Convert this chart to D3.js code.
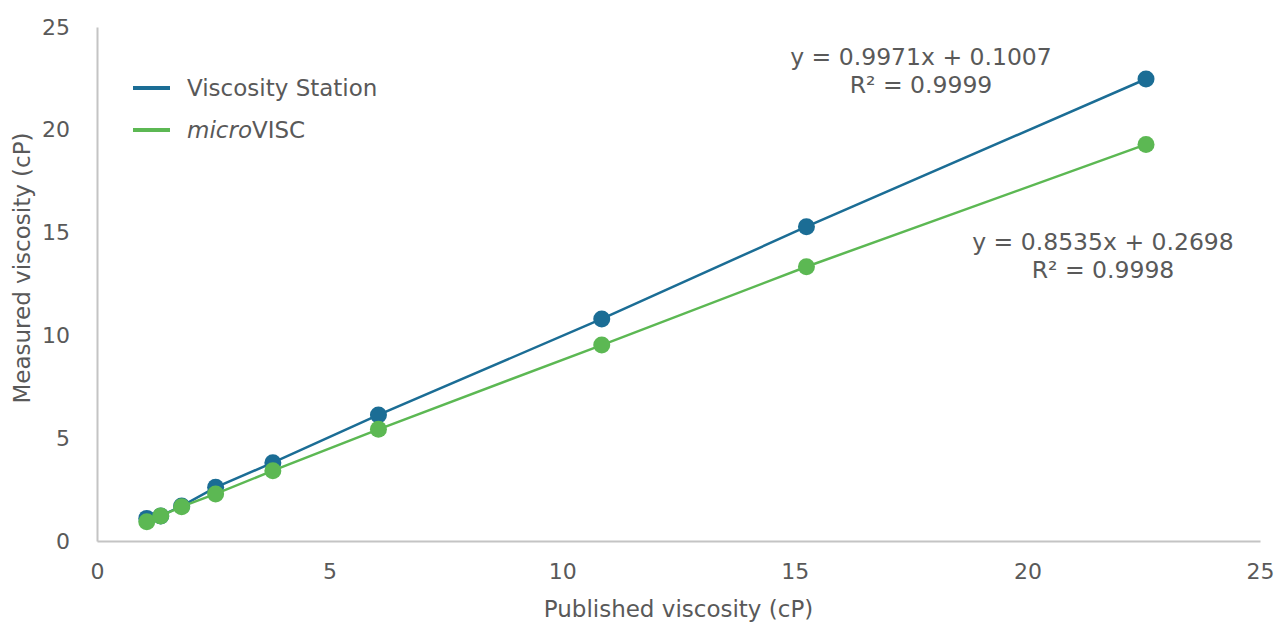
<!DOCTYPE html>
<html>
<head>
<meta charset="utf-8">
<script src="https://cdn.jsdelivr.net/npm/d3@7"></script>
<style>
  body { margin: 0; background: #fff; }
  text { font-family: "DejaVu Sans", Verdana, sans-serif; fill: #595959; }
</style>
</head>
<body>
<div id="chart"></div>
<script>
// published viscosity (cP)
const published = [1.07, 1.37, 1.82, 2.55, 3.78, 6.05, 10.85, 15.25, 22.55]
// measured values per instrument
const stationValues = [1.10, 1.22, 1.70, 2.61, 3.81, 6.13, 10.80, 15.29, 22.47]
const microviscValues = [0.94, 1.22, 1.67, 2.29, 3.42, 5.43, 9.53, 13.34, 19.29]
const seriesNames = ["Viscosity Station", "microVISC"]
const seriesColors = ["#1b6d95", "#5cb853"]
const fitLabels = [
  ["y = 0.9971x + 0.1007", "R² = 0.9999"],
  ["y = 0.8535x + 0.2698", "R² = 0.9998"]
]
const ticks = [0, 5, 10, 15, 20, 25]

const width = 1277
const height = 623
const margin = { top: 27, right: 17, bottom: 82, left: 97 }

const svg = d3
  .select("#chart")
  .append("svg")
  .attr("width", width)
  .attr("height", height)

const x = d3.scaleLinear().domain([0, 25]).range([margin.left, width - margin.right])
const y = d3.scaleLinear().domain([0, 25]).range([height - margin.bottom, margin.top])

// axes: plain grey lines, no tick marks
svg
  .append("g")
  .attr("transform", `translate(0,${y(0)})`)
  .call(d3.axisBottom(x).tickValues(ticks).tickSize(0).tickPadding(22))
  .call(g => g.select(".domain").attr("stroke", "#c4c4c4").attr("stroke-width", 2))
  .call(g => g.selectAll("text").attr("font-size", 22).attr("fill", "#595959"))

svg
  .append("g")
  .attr("transform", `translate(${x(0)},0)`)
  .call(d3.axisLeft(y).tickValues(ticks).tickSize(0).tickPadding(27))
  .call(g => g.select(".domain").attr("stroke", "#c4c4c4").attr("stroke-width", 2))
  .call(g => g.selectAll("text").attr("font-size", 22).attr("fill", "#595959"))

svg
  .append("text")
  .attr("x", (margin.left + width - margin.right) / 2)
  .attr("y", 617)
  .attr("text-anchor", "middle")
  .attr("font-size", 23)
  .text("Published viscosity (cP)")

svg
  .append("text")
  .attr("transform", "translate(30,268) rotate(-90)")
  .attr("text-anchor", "middle")
  .attr("font-size", 23)
  .text("Measured viscosity (cP)")

const series = [stationValues, microviscValues].map((vals, i) => ({
  name: seriesNames[i],
  color: seriesColors[i],
  points: published.map((p, j) => ({ x: p, y: vals[j] }))
}))

const line = d3.line().x(d => x(d.x)).y(d => y(d.y))

series.forEach(s => {
  svg
    .append("path")
    .attr("d", line(s.points))
    .attr("fill", "none")
    .attr("stroke", s.color)
    .attr("stroke-width", 2.5)
  svg
    .append("g")
    .selectAll("circle")
    .data(s.points)
    .enter()
    .append("circle")
    .attr("cx", d => x(d.x))
    .attr("cy", d => y(d.y))
    .attr("r", 8.5)
    .attr("fill", s.color)
})

// fit equations
const fitPos = [
  { cx: 921, cy: 65 },
  { cx: 1103, cy: 250 }
]
fitLabels.forEach((lines, i) => {
  svg
    .append("text")
    .attr("text-anchor", "middle")
    .attr("font-size", 23.5)
    .selectAll("tspan")
    .data(lines)
    .enter()
    .append("tspan")
    .attr("x", fitPos[i].cx)
    .attr("y", (d, j) => fitPos[i].cy + j * 28)
    .text(d => d)
})

// legend
const legend = svg.append("g").attr("transform", "translate(133,88)")
series.forEach((s, i) => {
  const row = legend.append("g").attr("transform", `translate(0,${i * 42})`)
  row
    .append("line")
    .attr("x1", 0)
    .attr("x2", 37)
    .attr("stroke", s.color)
    .attr("stroke-width", 4)
  const t = row.append("text").attr("x", 54).attr("y", 8).attr("font-size", 23)
  if (s.name === "microVISC") {
    t.append("tspan").attr("font-style", "italic").text("micro")
    t.append("tspan").text("VISC")
  } else {
    t.text(s.name)
  }
})
</script>
</body>
</html>
